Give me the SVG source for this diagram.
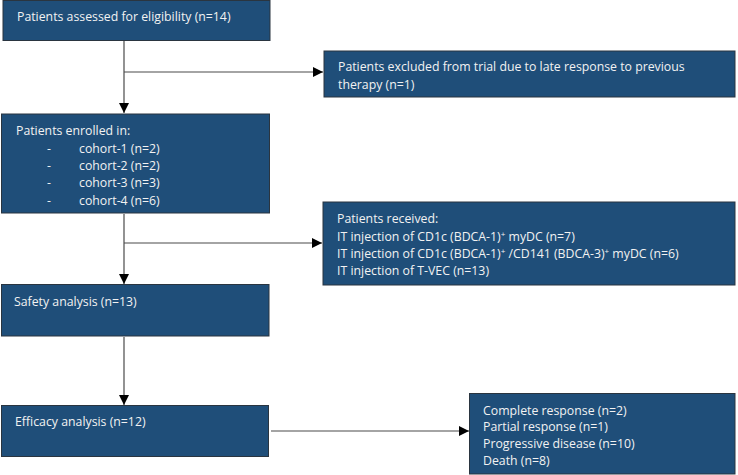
<svg xmlns="http://www.w3.org/2000/svg" width="738" height="475" viewBox="0 0 738 475">
<style>
.box{fill:#1f4e79;stroke:#2a3540;stroke-width:1}
.t{font-family:"Open Sans","Liberation Sans",Arial,sans-serif;font-size:12.3px;fill:#f2f2f2}
.sup{font-size:8px}
.c{stroke:#4a4a4a;stroke-width:1.2;fill:none}
</style>
<defs>
<marker id="ah" viewBox="0 0 10 10" refX="10" refY="5" markerWidth="10" markerHeight="10" markerUnits="userSpaceOnUse" orient="auto">
<path d="M0,0 L10,5 L0,10 Z" fill="#000"/>
</marker>
</defs>
<rect width="738" height="475" fill="#fff"/>
<g id="connectors">
<line class="c" x1="124" y1="41" x2="124" y2="113" marker-end="url(#ah)"/>
<line class="c" x1="124" y1="72" x2="323" y2="72" marker-end="url(#ah)"/>
<line class="c" x1="124" y1="214" x2="124" y2="284" marker-end="url(#ah)"/>
<line class="c" x1="124" y1="243" x2="322" y2="243" marker-end="url(#ah)"/>
<line class="c" x1="124" y1="337" x2="124" y2="405" marker-end="url(#ah)"/>
<line class="c" x1="271" y1="431" x2="469" y2="431" marker-end="url(#ah)"/>
</g>
<g id="assessed">
<rect class="box" x="3" y="0.5" width="267" height="40"/>
<text class="t" x="17" y="21">Patients assessed for eligibility (n=14)</text>
</g>
<g id="excluded">
<rect class="box" x="324" y="51" width="411" height="46"/>
<text class="t" x="338" y="71">Patients excluded from trial due to late response to previous</text>
<text class="t" x="338" y="88.5">therapy (n=1)</text>
</g>
<g id="enrolled">
<rect class="box" x="1.5" y="114" width="268" height="99"/>
<text class="t" x="16" y="135">Patients enrolled in:</text>
<text class="t" x="47" y="152.5">-</text><text class="t" x="79" y="152.5">cohort-1 (n=2)</text>
<text class="t" x="47" y="170">-</text><text class="t" x="79" y="170">cohort-2 (n=2)</text>
<text class="t" x="47" y="187">-</text><text class="t" x="79" y="187">cohort-3 (n=3)</text>
<text class="t" x="47" y="204.5">-</text><text class="t" x="79" y="204.5">cohort-4 (n=6)</text>
</g>
<g id="received">
<rect class="box" x="323" y="202" width="412" height="83"/>
<text class="t" x="337" y="223">Patients received:</text>
<text class="t" x="337" y="240.5">IT injection of CD1c (BDCA-1)<tspan class="sup" dy="-4">+</tspan><tspan dy="4"> myDC (n=7)</tspan></text>
<text class="t" x="337" y="258">IT injection of CD1c (BDCA-1)<tspan class="sup" dy="-4">+</tspan><tspan dy="4"> /CD141 (BDCA-3)</tspan><tspan class="sup" dy="-4">+</tspan><tspan dy="4"> myDC (n=6)</tspan></text>
<text class="t" x="337" y="275">IT injection of T-VEC (n=13)</text>
</g>
<g id="safety">
<rect class="box" x="1.5" y="284.5" width="267.5" height="51.5"/>
<text class="t" x="14" y="306">Safety analysis (n=13)</text>
</g>
<g id="efficacy">
<rect class="box" x="1.5" y="405.5" width="267" height="51"/>
<text class="t" x="15" y="426">Efficacy analysis (n=12)</text>
</g>
<g id="outcome">
<rect class="box" x="469.5" y="393.5" width="265.5" height="80.5"/>
<text class="t" x="483" y="414.5">Complete response (n=2)</text>
<text class="t" x="483" y="431">Partial response (n=1)</text>
<text class="t" x="483" y="448">Progressive disease (n=10)</text>
<text class="t" x="483" y="464.5">Death (n=8)</text>
</g>
</svg>
